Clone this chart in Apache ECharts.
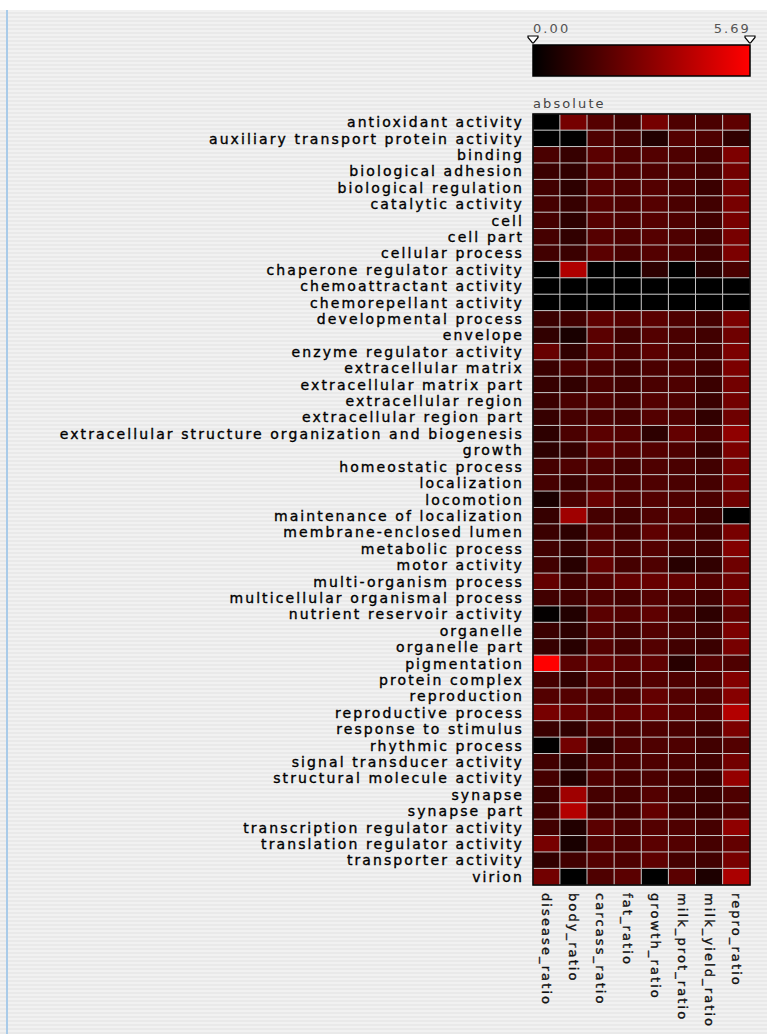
<!DOCTYPE html>
<html>
<head>
<meta charset="utf-8">
<title>GO term ratios</title>
<script src="https://cdn.jsdelivr.net/npm/echarts@6/dist/echarts.min.js"></script>
<style>
  html, body { margin: 0; padding: 0; background: #ffffff; }
  #frame {
    position: absolute; left: 0; top: 10px; width: 767px; height: 1024px;
    background: repeating-linear-gradient(to bottom, #f1f1f1 0px, #f1f1f1 2px, #e9e9e9 2px, #e9e9e9 4px);
  }
  #frame::before {
    content: ""; position: absolute; left: 6px; top: 0; width: 2px; height: 100%;
    background: #a9cbe9;
  }
  #chart { position: absolute; left: 0; top: 0; width: 767px; height: 1034px; }
  #chart text { letter-spacing: 2.1px; }
</style>
</head>
<body>
<div id="frame"></div>
<div id="chart"></div>
<script>
// GO categories (rows, top to bottom)
const terms = [
  'antioxidant activity', 'auxiliary transport protein activity', 'binding', 'biological adhesion',
  'biological regulation', 'catalytic activity', 'cell', 'cell part', 'cellular process',
  'chaperone regulator activity', 'chemoattractant activity', 'chemorepellant activity',
  'developmental process', 'envelope', 'enzyme regulator activity', 'extracellular matrix',
  'extracellular matrix part', 'extracellular region', 'extracellular region part',
  'extracellular structure organization and biogenesis', 'growth', 'homeostatic process',
  'localization', 'locomotion', 'maintenance of localization', 'membrane-enclosed lumen',
  'metabolic process', 'motor activity', 'multi-organism process', 'multicellular organismal process',
  'nutrient reservoir activity', 'organelle', 'organelle part', 'pigmentation', 'protein complex',
  'reproduction', 'reproductive process', 'response to stimulus', 'rhythmic process',
  'signal transducer activity', 'structural molecule activity', 'synapse', 'synapse part',
  'transcription regulator activity', 'translation regulator activity', 'transporter activity', 'virion'
];

// trait columns (left to right)
const traits = ['disease_ratio', 'body_ratio', 'carcass_ratio', 'fat_ratio',
                'growth_ratio', 'milk_prot_ratio', 'milk_yield_ratio', 'repro_ratio'];

// values per trait, one entry per GO term
const disease_ratio = [0, 0, 1.65, 1.3, 1.45, 1.55, 1.55, 1.55, 1.45, 0,
  0, 0, 1.3, 1.1, 2.3, 1.3, 1.2, 1.3, 1.2, 1.0,
  1.0, 1.55, 1.55, 0.55, 1.2, 1.3, 1.45, 1.45, 2.2, 1.45,
  0.1, 1.3, 1.2, 5.69, 1.55, 1.85, 2.65, 1.3, 0.05, 1.45,
  1.55, 1.3, 1.45, 1.45, 2.65, 1.1, 2.55];
const body_ratio = [2.6, 0.05, 1.2, 1.1, 1.0, 1.2, 1.0, 1.1, 1.3, 3.9,
  0, 0, 1.45, 0.55, 1.1, 1.65, 1.1, 1.65, 1.55, 1.65,
  1.2, 1.75, 1.3, 1.65, 3.55, 1.0, 1.2, 0.9, 1.45, 1.45,
  0.75, 1.0, 0.9, 2.0, 1.1, 1.85, 2.3, 1.1, 2.55, 1.0,
  0.75, 3.55, 4.0, 0.75, 0.55, 1.45, 0];
const carcass_ratio = [1.9, 1.75, 2.0, 1.9, 1.9, 1.9, 1.9, 1.9, 2.0, 0,
  0, 0, 2.1, 2.0, 2.0, 1.65, 1.65, 1.75, 1.65, 2.0,
  2.1, 1.75, 1.75, 2.3, 1.55, 1.85, 1.85, 2.2, 1.85, 1.75,
  2.0, 1.85, 1.85, 2.2, 2.0, 1.85, 2.0, 1.85, 1.0, 1.75,
  1.75, 1.55, 1.55, 2.0, 1.85, 1.85, 1.75];
const fat_ratio = [1.55, 1.5, 1.75, 1.75, 1.75, 1.75, 1.75, 1.75, 1.65, 0,
  0, 0, 1.9, 1.45, 1.65, 1.45, 1.45, 1.55, 1.55, 1.85,
  1.85, 1.55, 1.65, 1.75, 1.45, 1.55, 1.65, 1.55, 2.2, 1.55,
  1.85, 1.55, 1.55, 2.0, 1.65, 1.75, 2.2, 1.65, 1.75, 1.65,
  1.55, 1.55, 1.55, 1.65, 1.75, 1.75, 2.0];
const growth_ratio = [2.6, 0.75, 1.85, 1.75, 1.85, 1.9, 1.9, 1.9, 1.85, 1.0,
  0, 0, 2.0, 1.85, 2.0, 1.65, 1.65, 1.85, 1.85, 1.0,
  1.85, 1.75, 1.75, 1.85, 1.75, 2.1, 1.85, 1.75, 2.3, 1.85,
  2.1, 1.85, 1.85, 2.1, 1.85, 2.2, 2.3, 1.75, 1.75, 1.75,
  1.65, 1.85, 2.2, 1.85, 2.0, 2.1, 0];
const milk_prot_ratio = [1.75, 1.85, 1.75, 1.75, 1.65, 1.65, 1.75, 1.75, 1.75, 0,
  0, 0, 1.75, 1.65, 1.65, 1.75, 1.75, 1.75, 1.75, 2.2,
  1.75, 1.65, 1.65, 1.75, 1.85, 1.75, 1.55, 0.9, 2.2, 1.65,
  1.55, 1.65, 1.45, 0.9, 1.75, 1.85, 2.0, 1.65, 1.75, 1.65,
  1.55, 1.45, 1.45, 1.75, 1.85, 1.55, 2.0];
const milk_yield_ratio = [1.65, 1.75, 1.55, 1.55, 1.3, 1.45, 1.45, 1.45, 1.45, 0.9,
  0, 0, 1.55, 1.45, 1.55, 1.45, 1.3, 1.3, 1.1, 1.65,
  1.2, 1.45, 1.55, 1.65, 1.3, 1.45, 1.45, 1.1, 1.85, 1.45,
  1.0, 1.45, 1.3, 1.85, 1.65, 1.75, 1.85, 1.45, 1.45, 1.45,
  1.3, 1.3, 1.3, 1.55, 1.55, 1.45, 0.65];
const repro_ratio = [2.1, 1.1, 2.8, 2.55, 2.55, 2.65, 2.65, 2.65, 2.75, 1.65,
  0, 0, 2.75, 2.45, 2.75, 2.75, 2.55, 2.55, 2.45, 3.2,
  2.75, 2.55, 2.55, 2.45, 0, 2.65, 2.9, 2.45, 2.45, 2.45,
  2.1, 2.75, 2.65, 1.75, 2.9, 3.0, 4.0, 2.75, 1.85, 2.55,
  3.3, 1.75, 1.75, 3.2, 2.2, 2.65, 3.8];

// colour scale range and its end labels
const scaleMin = 0.00;
const scaleMax = 5.69;
const scaleLabel = 'absolute';

const columns = [disease_ratio, body_ratio, carcass_ratio, fat_ratio,
                 growth_ratio, milk_prot_ratio, milk_yield_ratio, repro_ratio];

const cells = [];
columns.forEach((col, xi) => col.forEach((v, yi) => cells.push([xi, yi, v])));

// plot area in pixels
const G = { left: 533, top: 114, width: 217, height: 771 };
const BAR = { x: 533, y: 45, w: 217, h: 31 };
const FONT = 'DejaVu Sans';

function marker(cx) {
  return {
    type: 'polygon', z: 10,
    shape: { points: [[cx - 5, 36], [cx + 5, 36], [cx + 5, 37.5], [cx + 0.5, 43], [cx - 0.5, 43], [cx - 5, 37.5]] },
    style: { fill: '#ffffff', stroke: '#000000', lineWidth: 1.2 }
  };
}

const chart = echarts.init(document.getElementById('chart'), null, { renderer: 'svg' });
chart.setOption({
  backgroundColor: 'transparent',
  animation: false,
  grid: { left: G.left, top: G.top, width: G.width, height: G.height, containLabel: false },
  xAxis: {
    type: 'category', data: traits, position: 'bottom',
    axisLine: { show: false }, axisTick: { show: false }, splitArea: { show: false },
    axisLabel: {
      rotate: -90, interval: 0, margin: 8, fontSize: 13, color: '#111', fontFamily: FONT,
      textBorderColor: '#111', textBorderWidth: 0.35
    }
  },
  yAxis: {
    type: 'category', data: terms, inverse: true,
    axisLine: { show: false }, axisTick: { show: false }, splitArea: { show: false },
    axisLabel: {
      interval: 0, margin: 9, fontSize: 14, color: '#000', fontFamily: FONT, padding: [11, 0, 0, 0],
      textBorderColor: '#000', textBorderWidth: 0.35
    }
  },
  visualMap: {
    type: 'continuous', show: false, dimension: 2,
    min: scaleMin, max: scaleMax,
    inRange: { color: ['#000000', '#ff0000'] }
  },
  series: [{
    type: 'heatmap', data: cells,
    itemStyle: { borderColor: '#c6c6c6', borderWidth: 1 },
    emphasis: { disabled: true }
  }],
  graphic: [
    { type: 'text', x: BAR.x, y: 22, style: { text: scaleMin.toFixed(2), font: '13px "DejaVu Sans"', fill: '#555', textAlign: 'left', textVerticalAlign: 'top' } },
    { type: 'text', x: BAR.x + BAR.w + 1, y: 22, style: { text: scaleMax.toFixed(2), font: '13px "DejaVu Sans"', fill: '#555', textAlign: 'right', textVerticalAlign: 'top' } },
    {
      type: 'rect', shape: { x: BAR.x, y: BAR.y, width: BAR.w, height: BAR.h },
      style: {
        fill: new echarts.graphic.LinearGradient(0, 0, 1, 0, [
          { offset: 0, color: '#000000' }, { offset: 1, color: '#ff0000' }
        ]),
        stroke: '#000000', lineWidth: 1.5
      }
    },
    marker(BAR.x), marker(BAR.x + BAR.w),
    { type: 'text', x: G.left, y: 97, style: { text: scaleLabel, font: '13px "DejaVu Sans"', fill: '#444', textAlign: 'left', textVerticalAlign: 'top' } },
    { type: 'rect', z: 100, shape: { x: G.left, y: G.top, width: G.width, height: G.height }, style: { fill: 'none', stroke: '#000000', lineWidth: 1.5 } }
  ]
});
</script>
</body>
</html>
